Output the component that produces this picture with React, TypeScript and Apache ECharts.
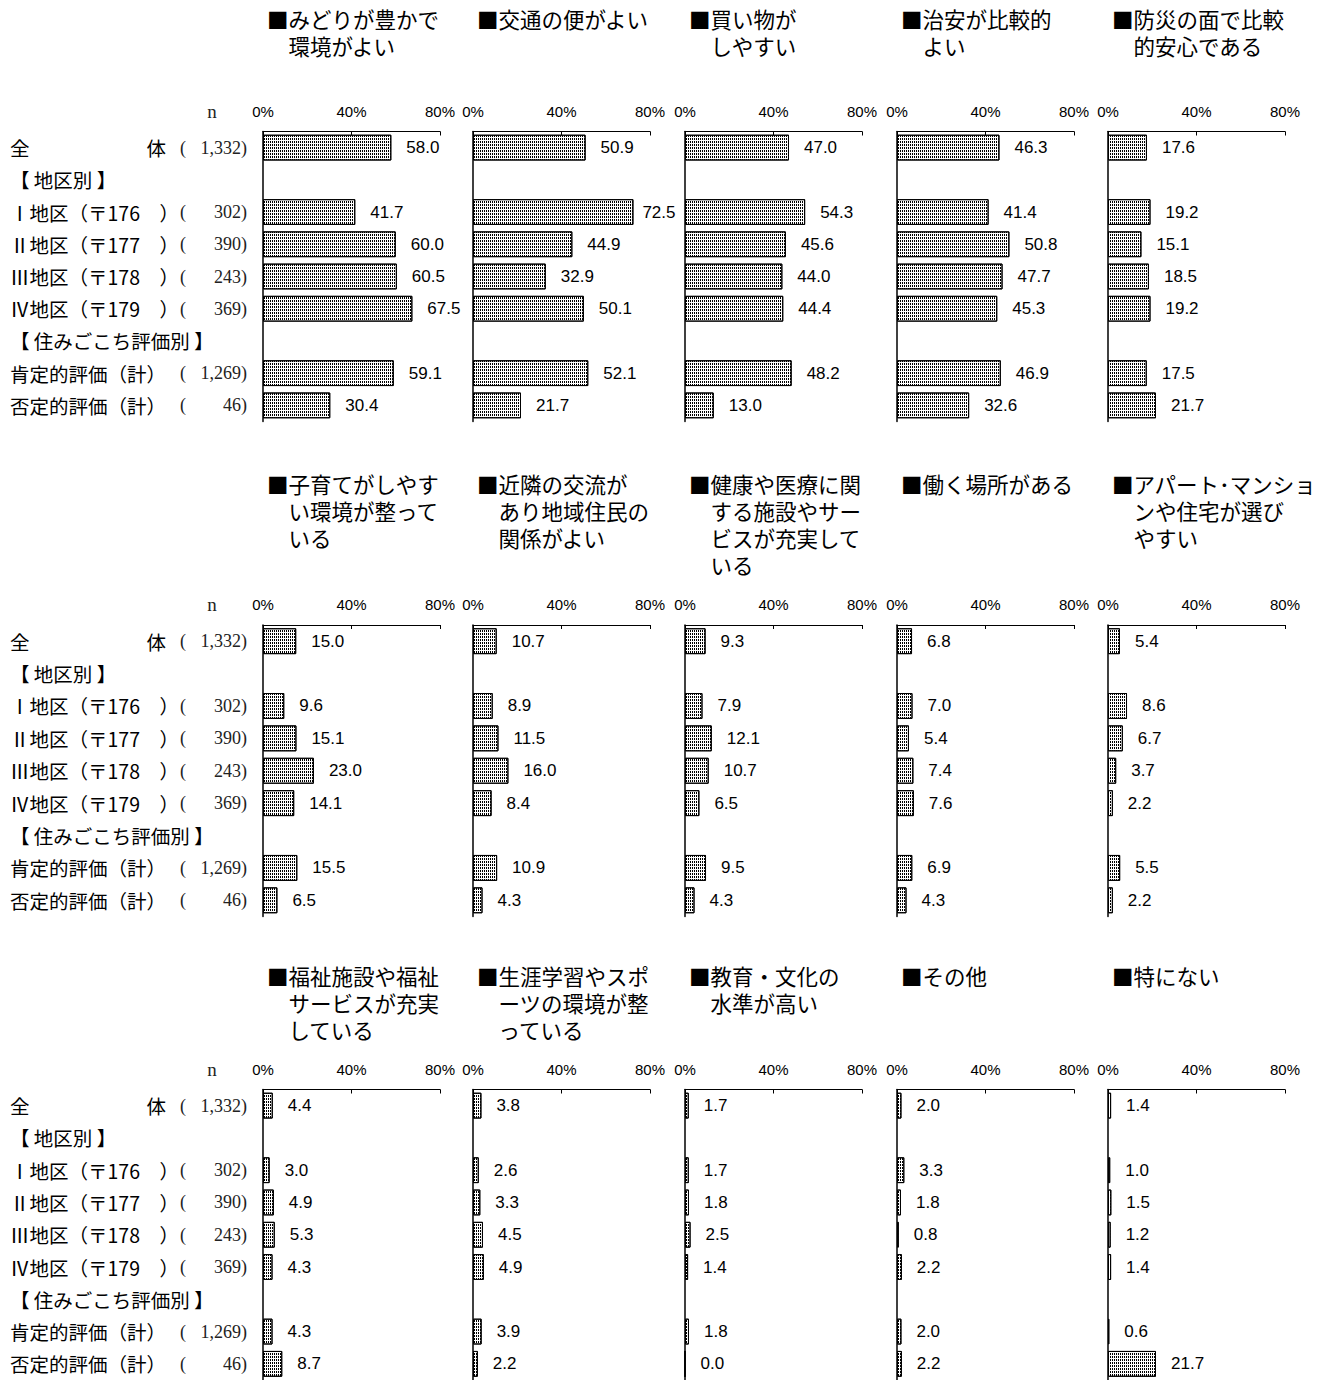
import React, { useEffect, useRef } from 'react';
import * as echarts from 'echarts';

// ---- data ----
const categories = ['全体', '地区別', 'Ⅰ地区', 'Ⅱ地区', 'Ⅲ地区', 'Ⅳ地区', '住みごこち評価別', '肯定的評価', '否定的評価'];
const rowLabels = ['全　　　　　　体', '【 地区別 】', 'Ⅰ地区（〒176　）', 'Ⅱ地区（〒177　）', 'Ⅲ地区（〒178　）', 'Ⅳ地区（〒179　）', '【 住みごこち評価別 】', '肯定的評価（計）', '否定的評価（計）'];
const nValues = ['1,332', '', '302', '390', '243', '369', '', '1,269', '46'];
const tickValues = [0, 40, 80];

const titles = [
  '■みどりが豊かで\n　環境がよい',
  '■交通の便がよい',
  '■買い物が\n　しやすい',
  '■治安が比較的\n　よい',
  '■防災の面で比較\n　的安心である',
  '■子育てがしやす\n　い環境が整って\n　いる',
  '■近隣の交流が\n　あり地域住民の\n　関係がよい',
  '■健康や医療に関\n　する施設やサー\n　ビスが充実して\n　いる',
  '■働く場所がある',
  '■アパート･マンショ\n　ンや住宅が選び\n　やすい',
  '■福祉施設や福祉\n　サービスが充実\n　している',
  '■生涯学習やスポ\n　ーツの環境が整\n　っている',
  '■教育・文化の\n　水準が高い',
  '■その他',
  '■特にない',
];

const v01 = [58.0, null, 41.7, 60.0, 60.5, 67.5, null, 59.1, 30.4];
const v02 = [50.9, null, 72.5, 44.9, 32.9, 50.1, null, 52.1, 21.7];
const v03 = [47.0, null, 54.3, 45.6, 44.0, 44.4, null, 48.2, 13.0];
const v04 = [46.3, null, 41.4, 50.8, 47.7, 45.3, null, 46.9, 32.6];
const v05 = [17.6, null, 19.2, 15.1, 18.5, 19.2, null, 17.5, 21.7];
const v06 = [15.0, null, 9.6, 15.1, 23.0, 14.1, null, 15.5, 6.5];
const v07 = [10.7, null, 8.9, 11.5, 16.0, 8.4, null, 10.9, 4.3];
const v08 = [9.3, null, 7.9, 12.1, 10.7, 6.5, null, 9.5, 4.3];
const v09 = [6.8, null, 7.0, 5.4, 7.4, 7.6, null, 6.9, 4.3];
const v10 = [5.4, null, 8.6, 6.7, 3.7, 2.2, null, 5.5, 2.2];
const v11 = [4.4, null, 3.0, 4.9, 5.3, 4.3, null, 4.3, 8.7];
const v12 = [3.8, null, 2.6, 3.3, 4.5, 4.9, null, 3.9, 2.2];
const v13 = [1.7, null, 1.7, 1.8, 2.5, 1.4, null, 1.8, 0.0];
const v14 = [2.0, null, 3.3, 1.8, 0.8, 2.2, null, 2.0, 2.2];
const v15 = [1.4, null, 1.0, 1.5, 1.2, 1.4, null, 0.6, 21.7];
const panelValues = [v01, v02, v03, v04, v05, v06, v07, v08, v09, v10, v11, v12, v13, v14, v15];

// ---- layout / style ----
const GRID_LEFT = [263, 473, 685, 897, 1108];
const GRID_W = 177;
const ROW_TOP = [131.5, 625, 1089.5];
const ROW_H = [290, 291.5, 291.5];
const TITLE_CENTER = [18, 483, 975];
const JP = '"Noto Sans CJK JP", sans-serif';
const SANS = '"Liberation Sans", Arial, sans-serif';
const SERIF = '"Liberation Serif", "Times New Roman", serif';
const labelDistanceOverride: Record<string, number> = { '1-2': 9 };

export default function App() {
  const ref = useRef<HTMLDivElement>(null);
  useEffect(() => {
    document.body.style.margin = '0';
    if (!ref.current) return;
    const chart = echarts.init(ref.current, undefined, { renderer: 'svg' });

    const grid: any[] = [];
    const xAxis: any[] = [];
    const yAxis: any[] = [];
    const series: any[] = [];
    const title: any[] = [];
    const graphic: any[] = [];

    panelValues.forEach((vals, i) => {
      const r = Math.floor(i / 5);
      const c = i % 5;
      grid.push({ left: GRID_LEFT[c], top: ROW_TOP[r], width: GRID_W, height: ROW_H[r], containLabel: false });
      xAxis.push({
        gridIndex: i, type: 'value', position: 'top',
        min: tickValues[0], max: tickValues[tickValues.length - 1], interval: tickValues[1] - tickValues[0],
        axisLine: { show: true, lineStyle: { color: '#000', width: 1 } },
        axisTick: { show: true, inside: true, length: 4, lineStyle: { color: '#000', width: 1 } },
        splitLine: { show: false },
        axisLabel: { formatter: (v: number) => v + '%', fontSize: 15, margin: 13, color: '#000', fontFamily: SANS },
      });
      yAxis.push({
        gridIndex: i, type: 'category', inverse: true, data: categories,
        axisLine: { show: true, onZero: false, lineStyle: { color: '#000', width: 1.5 } },
        axisTick: { show: false }, axisLabel: { show: false }, splitLine: { show: false },
      });
      title.push({
        text: titles[i], left: GRID_LEFT[c] + 4, top: TITLE_CENTER[r] - 13.5, padding: 0,
        textStyle: { fontSize: 21.5, lineHeight: 27, fontFamily: JP, fontWeight: 'normal', color: '#000' },
      });
      series.push({
        type: 'bar', xAxisIndex: i, yAxisIndex: i, barWidth: '80%',
        data: vals.map((v, k) => {
          const key = i + '-' + k;
          if (v === null) return null;
          return labelDistanceOverride[key] !== undefined ? { value: v, label: { distance: labelDistanceOverride[key] } } : v;
        }),
        itemStyle: {
          color: '#fff', borderColor: '#000', borderWidth: 1,
          decal: { symbol: 'rect', symbolSize: 1, color: '#000', backgroundColor: '#fff', dashArrayX: [1, 1], dashArrayY: [2, 1], rotation: 0 },
        },
        label: {
          show: true, position: 'right', distance: 15, color: '#000', fontSize: 17, fontFamily: SANS,
          formatter: (p: any) => Number(p.value).toFixed(1),
        },
        emphasis: { disabled: true },
      });
    });

    // left row labels on the first panel of each row
    for (let r = 0; r < 3; r++) {
      const g = r * 5;
      const base = { gridIndex: g, type: 'category', inverse: true, data: categories, position: 'left', axisLine: { show: false }, axisTick: { show: false }, splitLine: { show: false } };
      yAxis.push({ ...base, axisLabel: { interval: 0, align: 'left', margin: 253, fontSize: 19.5, fontFamily: JP, color: '#000', formatter: (_: any, idx: number) => rowLabels[idx] } });
      yAxis.push({ ...base, axisLabel: { interval: 0, align: 'left', margin: 83, fontSize: 18, fontFamily: SERIF, color: '#222', formatter: (_: any, idx: number) => (nValues[idx] ? '(' : '') } });
      yAxis.push({ ...base, axisLabel: { interval: 0, align: 'right', margin: 16, fontSize: 18, fontFamily: SERIF, color: '#222', formatter: (_: any, idx: number) => (nValues[idx] ? nValues[idx] + ')' : '') } });
      graphic.push({
        type: 'text', x: 212, y: ROW_TOP[r] - 20.5,
        style: { text: 'n', font: '19px ' + SERIF, fill: '#222', textAlign: 'center', textVerticalAlign: 'middle' },
      });
    }

    chart.setOption({
      animation: false,
      backgroundColor: '#fff',
      title, grid, xAxis, yAxis, series, graphic,
    });
    return () => chart.dispose();
  }, []);
  return <div ref={ref} style={{ width: 1322, height: 1380 }} />;
}
